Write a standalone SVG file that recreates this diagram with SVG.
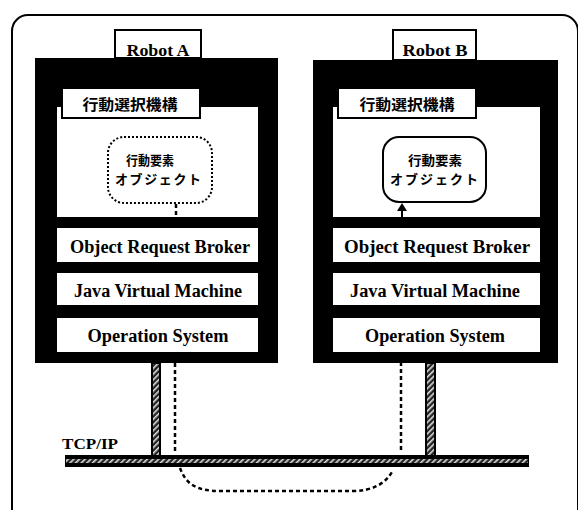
<svg xmlns="http://www.w3.org/2000/svg" width="578" height="510" viewBox="0 0 578 510">
  <defs>
    <style>
      .frame { fill: none; stroke: #000; stroke-width: 2; }
      .body { fill: #000; }
      .panel { fill: #fff; }
      .label { fill: #fff; stroke: #000; stroke-width: 2; }
      .en { font-family: "Liberation Serif", "DejaVu Serif", serif; font-weight: bold; fill: #000; text-anchor: middle; }
      .ja { font-family: "Noto Sans CJK JP", sans-serif; font-weight: bold; fill: #000; text-anchor: middle; }
      .obj { fill: #fff; stroke: #000; stroke-width: 2; }
      .dotted { stroke-dasharray: 2 2; }
      .dash { fill: none; stroke: #000; stroke-width: 2.5; stroke-dasharray: 4 3; }
      .cable { fill: url(#hatch); stroke: #000; stroke-width: 2; }
    </style>
    <pattern id="hatch" width="4" height="4" patternUnits="userSpaceOnUse" patternTransform="rotate(45)">
      <rect width="4" height="4" fill="#222"/>
      <rect width="1.6" height="4" fill="#ddd"/>
    </pattern>
  </defs>

  <!-- outer frame -->
  <rect class="frame" x="12" y="15" width="566" height="510" rx="16"/>

  <!-- Robot A -->
  <g id="robot-a">
    <rect class="body" x="35" y="58" width="243" height="305"/>
    <rect class="label" x="115" y="30" width="86" height="28"/>
    <text class="en" x="158" y="56" font-size="16" textLength="63" lengthAdjust="spacingAndGlyphs">Robot A</text>
    <rect class="panel" x="57" y="107" width="201" height="110"/>
    <rect class="label" x="62" y="88" width="138" height="30"/>
    <text class="ja" x="130" y="110" font-size="15" textLength="95" lengthAdjust="spacingAndGlyphs">行動選択機構</text>
    <rect class="panel" x="57" y="228" width="201" height="34"/>
    <text class="en" x="160" y="253" font-size="18" textLength="180" lengthAdjust="spacingAndGlyphs">Object Request Broker</text>
    <rect class="panel" x="57" y="273" width="201" height="32"/>
    <text class="en" x="158" y="297" font-size="18" textLength="168" lengthAdjust="spacingAndGlyphs">Java Virtual Machine</text>
    <rect class="panel" x="57" y="318" width="201" height="34"/>
    <text class="en" x="158" y="342" font-size="18" textLength="141" lengthAdjust="spacingAndGlyphs">Operation System</text>
  </g>
  <g id="object-a">
    <rect class="obj dotted" x="108" y="137" width="104" height="66" rx="16"/>
    <text class="ja" x="150" y="165" font-size="13" textLength="48" lengthAdjust="spacingAndGlyphs">行動要素</text>
    <text class="ja" x="158" y="184" font-size="13" textLength="86">オブジェクト</text>
  </g>

  <!-- Robot B -->
  <g id="robot-b">
    <rect class="body" x="313" y="60" width="245" height="303"/>
    <rect class="label" x="393" y="30" width="83" height="30"/>
    <text class="en" x="435" y="56" font-size="16" textLength="65" lengthAdjust="spacingAndGlyphs">Robot B</text>
    <rect class="panel" x="333" y="107" width="207" height="110"/>
    <rect class="label" x="338" y="88" width="138" height="30"/>
    <text class="ja" x="407" y="110" font-size="15" textLength="95" lengthAdjust="spacingAndGlyphs">行動選択機構</text>
    <rect class="panel" x="333" y="228" width="207" height="34"/>
    <text class="en" x="437" y="253" font-size="18" textLength="186" lengthAdjust="spacingAndGlyphs">Object Request Broker</text>
    <rect class="panel" x="333" y="273" width="207" height="32"/>
    <text class="en" x="435" y="297" font-size="18" textLength="170" lengthAdjust="spacingAndGlyphs">Java Virtual Machine</text>
    <rect class="panel" x="333" y="318" width="207" height="34"/>
    <text class="en" x="435" y="342" font-size="18" textLength="140" lengthAdjust="spacingAndGlyphs">Operation System</text>
  </g>
  <g id="object-b">
    <rect class="obj" x="383" y="137" width="103" height="65" rx="16"/>
    <text class="ja" x="435" y="165" font-size="13" textLength="54" lengthAdjust="spacingAndGlyphs">行動要素</text>
    <text class="ja" x="434" y="184" font-size="13" textLength="88">オブジェクト</text>
  </g>

  <!-- network -->
  <g id="network">
    <rect class="cable" x="152" y="363" width="8" height="94"/>
    <rect class="cable" x="426" y="363" width="9" height="94"/>
    <rect x="65" y="455" width="464" height="12" fill="#000"/>
    <rect x="66" y="459" width="462" height="4" fill="url(#hatch)"/>
    <text class="en" x="90" y="449" font-size="15" textLength="56" lengthAdjust="spacingAndGlyphs">TCP/IP</text>
  </g>

  <!-- connectors -->
  <g id="connectors">
    <line class="dash" x1="176" y1="204" x2="176" y2="217" stroke-width="2"/>
    <polygon points="402,203 397,211 407,211" fill="#000"/>
    <line x1="402" y1="211" x2="402" y2="217" stroke="#000" stroke-width="2"/>
    <line class="dash" x1="175" y1="363" x2="175" y2="453"/>
    <line class="dash" x1="401" y1="362" x2="401" y2="453"/>
    <path class="dash" d="M180,468 C186,484 196,491 220,491 L352,491 C372,491 386,484 393,470"/>
  </g>
</svg>
